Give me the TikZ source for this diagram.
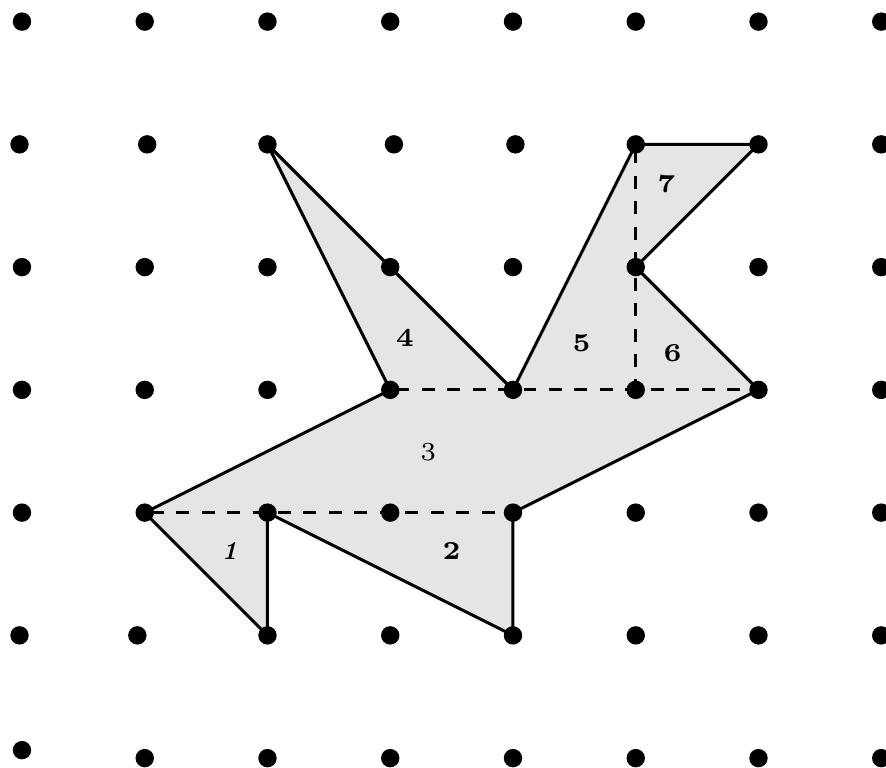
\documentclass[tikz,border=0pt]{standalone}
\usepackage{tikz}
\usetikzlibrary{backgrounds}

\begin{document}
\begin{tikzpicture}[
    dot/.style={circle, fill=black, inner sep=0pt, minimum size=0.15cm},
    edge/.style={draw=black, line width=0.7pt},
    cut/.style={draw=black, line width=0.7pt, dash pattern=on 3pt off 2.9pt, dash phase=4.5pt},
    piece/.style={font=\fontsize{6}{7}\selectfont\bfseries}
]

\useasboundingbox (-0.179,-0.073) rectangle (7.039,6.176);

% Grid of dots, row by row (a few of them sit slightly off)
\node[dot] (d-0-0) at (0,0.065) {};
\foreach \i in {1,...,7}
    \node[dot] (d-\i-0) at (\i,0) {};
\foreach \j/\row in {1/{-0.02,0.94,2,3,4,5,6,7},
                     2/{0,1,2,3,4,5,6,7},
                     3/{0,1,2,3,4,5,6,7},
                     4/{0,1,2,3,4,5,6,7},
                     5/{-0.02,1.02,2,3.03,4.02,5,6,7},
                     6/{0,1,2,3,4,5,6,7}}
    \foreach \x [count=\i from 0] in \row
        \node[dot] (d-\i-\j) at (\x,\j) {};

\begin{scope}[on background layer]
% Outline of the figure
\path[edge, fill=black!10] (d-1-2.center) -- (d-3-3.center) -- (d-2-5.center)
    -- (d-4-3.center) -- (d-5-5.center) -- (d-6-5.center) -- (d-5-4.center)
    -- (d-6-3.center) -- (d-4-2.center) -- (d-4-1.center) -- (d-2-2.center)
    -- (d-2-1.center) -- cycle;

% Cuts between the pieces
\path[cut] (d-1-2.center) -- (d-4-2.center);
\path[cut] (d-3-3.center) -- (d-6-3.center);
\path[cut] (d-5-5.center) -- (d-5-3.center);
\end{scope}

% Piece numbers
\node[piece] (p1) at (1.69,1.69) {\itshape 1};
\node[piece] (p2) at (3.50,1.69) {2};
\node[piece, font=\fontsize{6}{7}\selectfont] (p3) at (3.31,2.49) {3};
\node[piece] (p4) at (3.12,3.42) {4};
\node[piece] (p5) at (4.56,3.38) {5};
\node[piece] (p6) at (5.30,3.30) {6};
\node[piece] (p7) at (5.25,4.68) {7};

\end{tikzpicture}
\end{document}
